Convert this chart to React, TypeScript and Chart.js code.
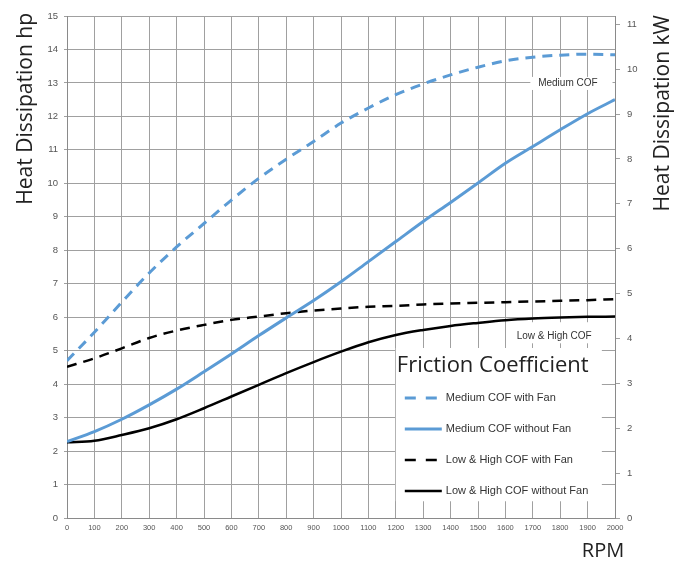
import React, { useEffect, useRef } from "react";
import { Chart, registerables } from "chart.js";

Chart.register(...registerables);

// ---- data ----
const rpm = [0, 100, 200, 300, 400, 500, 600, 700, 800, 900, 1000, 1100, 1200, 1300, 1400, 1500, 1600, 1700, 1800, 1900, 2000];
const mediumWithFan = [4.7, 5.55, 6.45, 7.32, 8.1, 8.8, 9.5, 10.15, 10.72, 11.25, 11.8, 12.25, 12.65, 12.97, 13.24, 13.47, 13.66, 13.77, 13.83, 13.86, 13.84];
const mediumWithoutFan = [2.28, 2.58, 2.95, 3.38, 3.85, 4.37, 4.9, 5.45, 5.98, 6.5, 7.06, 7.66, 8.26, 8.86, 9.43, 10.01, 10.6, 11.1, 11.6, 12.08, 12.5];
const lowHighWithFan = [4.52, 4.77, 5.07, 5.38, 5.6, 5.77, 5.92, 6.02, 6.12, 6.2, 6.26, 6.31, 6.34, 6.38, 6.41, 6.43, 6.45, 6.47, 6.49, 6.51, 6.54];
const lowHighWithoutFan = [2.26, 2.31, 2.48, 2.68, 2.95, 3.28, 3.63, 3.98, 4.33, 4.66, 4.97, 5.25, 5.47, 5.62, 5.74, 5.83, 5.91, 5.96, 5.99, 6.01, 6.02];
const seriesLabels = ["Medium COF with Fan", "Medium COF without Fan", "Low & High COF with Fan", "Low & High COF without Fan"];

const hpMax = 15;
const hpToKw = 0.7457;
const legendTitle = "Friction Coefficient";
const leftTitle = "Heat Dissipation hp";
const rightTitle = "Heat Dissipation kW";
const xTitle = "RPM";

// annotation labels: text, center (rpm, hp), box (rpm range, hp range)
const noteTexts = ["Medium COF", "Low & High COF"];
const noteCenter = [[1828, 13.0], [1778, 5.44]];
const noteBox = [[1691, 1991, 12.79, 13.18], [1605, 2000, 5.22, 5.85]];
// legend box (rpm range, hp range)
const legendBox = [1200, 1952, 0.5, 5.08];

const BLUE = "#5b9bd5";
const BLACK = "#000000";
const GRID = "#a0a0a0";
const TICK = "#555555";
const SANS = "'Liberation Sans', Arial, sans-serif";
const OPEN = "'Open Sans', 'Noto Sans', sans-serif";

const toPts = (vals: number[]) => rpm.map((r, i) => ({ x: r, y: vals[i] }));

const overlayPlugin = {
  id: "overlay",
  beforeDatasetsDraw(chart: any) {
    const { ctx, scales } = chart;
    const x = scales.x, y = scales.y;
    ctx.save();
    noteTexts.forEach((t, i) => {
      const b = noteBox[i];
      const x0 = x.getPixelForValue(b[0]), x1 = x.getPixelForValue(b[1]);
      const y0 = y.getPixelForValue(b[3]), y1 = y.getPixelForValue(b[2]);
      ctx.fillStyle = "#ffffff";
      ctx.fillRect(x0, y0, x1 - x0, y1 - y0);
      ctx.font = `10px ${SANS}`;
      ctx.fillStyle = "#333333";
      ctx.textAlign = "center";
      ctx.textBaseline = "middle";
      ctx.fillText(t, x.getPixelForValue(noteCenter[i][0]), y.getPixelForValue(noteCenter[i][1]));
    });
    const lx = x.getPixelForValue(legendBox[0]);
    const rx = x.getPixelForValue(legendBox[1]);
    const ty = y.getPixelForValue(legendBox[3]);
    const by = y.getPixelForValue(legendBox[2]);
    ctx.fillStyle = "#ffffff";
    ctx.fillRect(lx, ty, rx - lx, by - ty);
    ctx.font = `22px ${OPEN}`;
    ctx.fillStyle = "#222222";
    ctx.textAlign = "left";
    ctx.textBaseline = "middle";
    ctx.fillText(legendTitle, lx + 1, ty + 18);
    chart.data.datasets.forEach((ds: any, i: number) => {
      const yy = ty + 50 + i * 31;
      ctx.strokeStyle = ds.borderColor;
      ctx.lineWidth = ds.borderWidth;
      ctx.setLineDash(ds.borderDash && ds.borderDash.length ? [11, 10] : []);
      ctx.beginPath();
      ctx.moveTo(lx + 9, yy);
      ctx.lineTo(lx + 46, yy);
      ctx.stroke();
      ctx.setLineDash([]);
      ctx.font = `11px ${SANS}`;
      ctx.fillStyle = "#333333";
      ctx.fillText(ds.label, lx + 50, yy);
    });
    ctx.restore();
  },
  afterDraw(chart: any) {
    const { ctx, chartArea } = chart;
    ctx.save();
    ctx.font = `21px ${OPEN}`;
    ctx.fillStyle = "#222222";
    ctx.textBaseline = "middle";
    ctx.save();
    ctx.translate(chartArea.left - 41, chartArea.top - 3);
    ctx.rotate(-Math.PI / 2);
    ctx.textAlign = "right";
    ctx.fillText(leftTitle, 0, 0);
    ctx.restore();
    ctx.save();
    ctx.translate(chartArea.right + 48, chartArea.top - 1);
    ctx.rotate(-Math.PI / 2);
    ctx.textAlign = "right";
    ctx.fillText(rightTitle, 0, 0);
    ctx.restore();
    ctx.font = `20px ${OPEN}`;
    ctx.textAlign = "center";
    ctx.fillText(xTitle, chartArea.right - 12, chartArea.bottom + 33);
    ctx.restore();
  },
};

export default function App() {
  const ref = useRef<HTMLCanvasElement | null>(null);
  useEffect(() => {
    if (!ref.current) return;
    const chart = new Chart(ref.current, {
      type: "line",
      data: {
        datasets: [
          { label: seriesLabels[0], data: toPts(mediumWithFan), borderColor: BLUE, borderWidth: 3, borderDash: [10, 7], pointRadius: 0, cubicInterpolationMode: "monotone", fill: false },
          { label: seriesLabels[1], data: toPts(mediumWithoutFan), borderColor: BLUE, borderWidth: 3, borderDash: [], pointRadius: 0, cubicInterpolationMode: "monotone", fill: false },
          { label: seriesLabels[2], data: toPts(lowHighWithFan), borderColor: BLACK, borderWidth: 2.5, borderDash: [10, 7], pointRadius: 0, cubicInterpolationMode: "monotone", fill: false },
          { label: seriesLabels[3], data: toPts(lowHighWithoutFan), borderColor: BLACK, borderWidth: 2.5, borderDash: [], pointRadius: 0, cubicInterpolationMode: "monotone", fill: false },
        ],
      } as any,
      options: {
        responsive: false,
        animation: false,
        devicePixelRatio: 1,
        layout: { padding: { top: 16, left: 0, right: 0, bottom: 0 } },
        plugins: { legend: { display: false }, tooltip: { enabled: false } },
        scales: {
          x: {
            type: "linear",
            min: 0,
            max: 2000,
            afterFit: (s: any) => { s.height = 45; },
            grid: { color: GRID, lineWidth: 1, tickLength: 0 },
            border: { display: true, color: "#8a8a8a" },
            ticks: { stepSize: 100, autoSkip: false, maxRotation: 0, padding: 5, color: TICK, font: { size: 7.5, family: SANS }, callback: (v: any) => String(v) },
          },
          y: {
            type: "linear",
            position: "left",
            min: 0,
            max: hpMax,
            afterFit: (s: any) => { s.width = 67; },
            grid: { color: GRID, lineWidth: 1, tickLength: 3 },
            border: { display: true, color: "#8a8a8a" },
            ticks: { stepSize: 1, padding: 6, color: TICK, font: { size: 9.5, family: SANS } },
          },
          y2: {
            type: "linear",
            position: "right",
            min: 0,
            max: hpMax * hpToKw,
            afterFit: (s: any) => { s.width = 69; },
            grid: { drawOnChartArea: false, color: GRID, tickLength: 5 },
            border: { display: true, color: "#8a8a8a" },
            ticks: { stepSize: 1, includeBounds: false, padding: 7, color: TICK, font: { size: 9.5, family: SANS } },
          },
        },
      } as any,
      plugins: [overlayPlugin],
    });
    return () => chart.destroy();
  }, []);
  return (
    <div style={{ position: "absolute", left: 0, top: 0, width: 684, height: 563, background: "#fff" }}>
      <canvas ref={ref} width={684} height={563} />
    </div>
  );
}
